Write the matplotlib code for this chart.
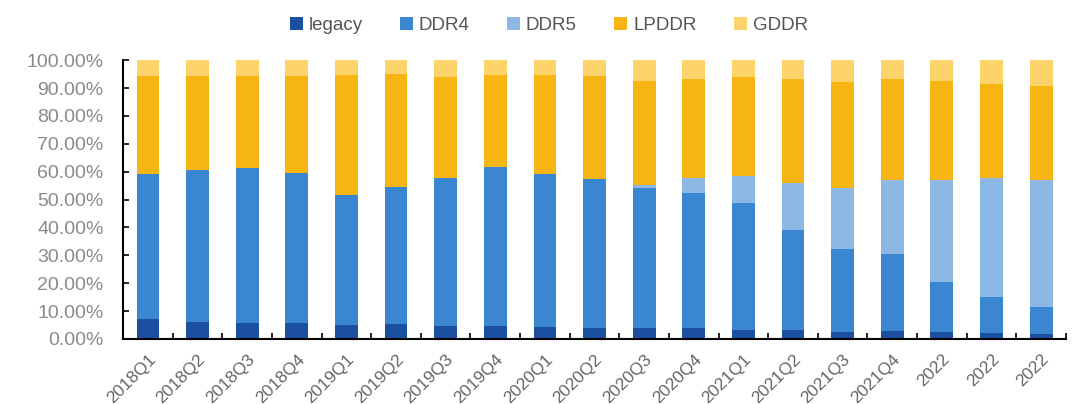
import matplotlib
matplotlib.use("Agg")
import matplotlib.pyplot as plt
from matplotlib.ticker import FuncFormatter, MultipleLocator
import numpy as np

plt.rcParams["font.family"] = ["Liberation Sans", "DejaVu Sans"]

# categories and stacked shares (%)
quarters = ["2018Q1", "2018Q2", "2018Q3", "2018Q4", "2019Q1", "2019Q2", "2019Q3",
            "2019Q4", "2020Q1", "2020Q2", "2020Q3", "2020Q4", "2021Q1", "2021Q2",
            "2021Q3", "2021Q4", "2022", "2022", "2022"]
legacy = [7.2, 6.2, 5.8, 5.6, 5.0, 5.3, 4.7, 4.7, 4.2, 3.8, 3.8, 3.8, 3.2, 3.2, 2.6, 3.0, 2.6, 2.3, 1.8]
ddr4 = [51.9, 54.4, 55.7, 54.0, 46.6, 49.3, 52.9, 57.1, 54.8, 53.5, 50.2, 48.6, 45.4, 35.9, 29.7, 27.5, 17.9, 12.6, 9.8]
ddr5 = [0, 0, 0, 0, 0, 0, 0, 0, 0, 0, 1.2, 5.2, 9.8, 16.9, 21.7, 26.7, 36.5, 42.7, 45.6]
lpddr = [35.2, 33.7, 32.8, 34.7, 43.0, 40.4, 36.2, 32.8, 35.6, 37.0, 37.4, 35.8, 35.6, 37.4, 38.2, 36.0, 35.6, 34.0, 33.5]
gddr = [5.7, 5.7, 5.7, 5.7, 5.4, 5.0, 6.2, 5.4, 5.4, 5.7, 7.4, 6.6, 6.0, 6.6, 7.8, 6.8, 7.4, 8.4, 9.3]

series = [("legacy", legacy, "#1b50a0"),
          ("DDR4", ddr4, "#3a86d0"),
          ("DDR5", ddr5, "#8db8e4"),
          ("LPDDR", lpddr, "#f6b513"),
          ("GDDR", gddr, "#fdd46b")]

fig = plt.figure(figsize=(10.8, 4.04), dpi=100)
ax = fig.add_axes([0.114, 0.161, 0.873, 0.690])

x = np.arange(len(quarters))
bottom = np.zeros(len(quarters))
for name, vals, col in series:
    vals = np.array(vals)
    ax.bar(x, vals, 0.46, bottom=bottom, color=col, label=name, linewidth=0)
    bottom += vals

ax.set_xlim(-0.5, len(quarters) - 0.5)
ax.set_ylim(0, 100)
ax.yaxis.set_major_locator(MultipleLocator(10))
ax.yaxis.set_major_formatter(FuncFormatter(lambda v, p: f"{v:.2f}%"))

ax.set_xticks(x)
ax.set_xticklabels(quarters, rotation=45, ha="right", rotation_mode="anchor")
ax.set_xticks(np.arange(-0.5, len(quarters), 1), minor=True)
ax.tick_params(axis="x", which="major", length=0, pad=9, labelsize=12.5, labelcolor="#666666")
ax.tick_params(axis="x", which="minor", direction="in", length=4, width=1.2, color="black")
ax.tick_params(axis="y", direction="in", length=4, width=1.2, labelsize=14,
               labelcolor="#8a8a8a", pad=14)

for s in ["top", "right"]:
    ax.spines[s].set_visible(False)
for s in ["left", "bottom"]:
    ax.spines[s].set_color("black")
    ax.spines[s].set_linewidth(1.5)

leg = fig.legend(loc="upper center", bbox_to_anchor=(0.508, 1.0), ncol=5, frameon=False,
                 fontsize=13.5, handlelength=0.7, handleheight=0.7, handletextpad=0.3,
                 columnspacing=2.0)
for t in leg.get_texts():
    t.set_color("#555555")

fig.savefig("out.png", dpi=100)
